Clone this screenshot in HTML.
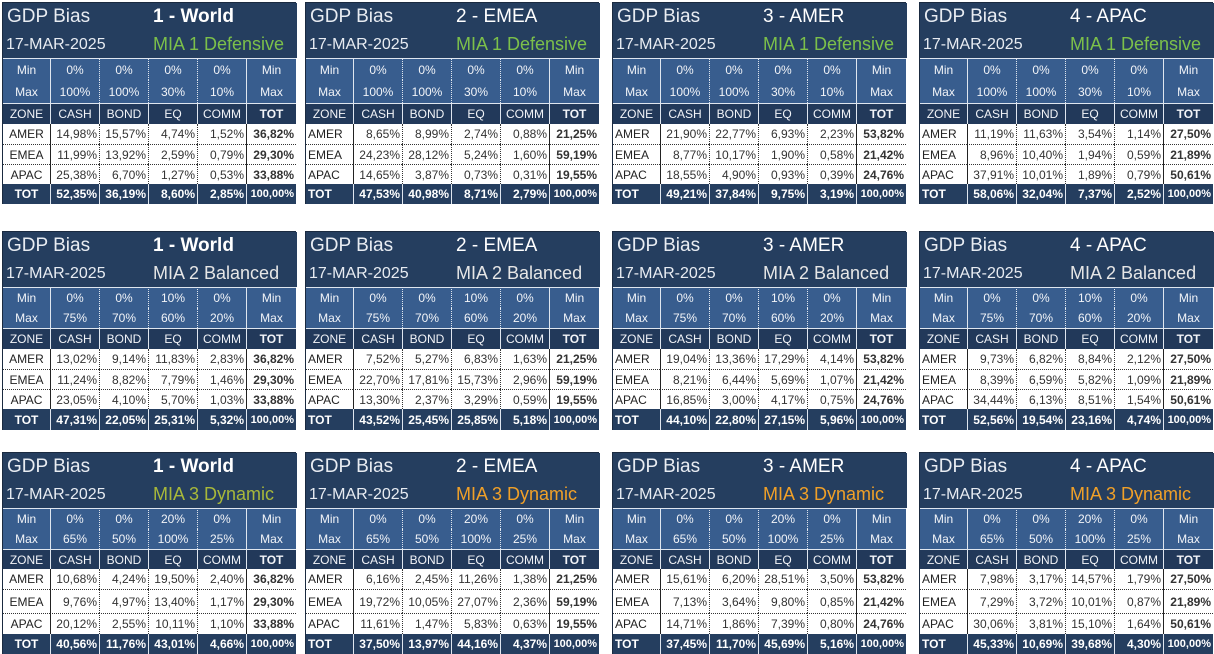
<!DOCTYPE html>
<html><head><meta charset="utf-8">
<style>
body{margin:0;width:1214px;height:654px;background:#fff;overflow:hidden;font-family:"Liberation Sans",sans-serif;position:relative}
.p{position:absolute;background:#fff;border:1px solid #1a2a40;box-sizing:border-box}
.c{position:absolute;box-sizing:border-box;font-size:12px;white-space:nowrap;display:flex;align-items:center;overflow:hidden}
</style></head><body>
<script>
const panelX=[2,305,612,919];
const panelTitles=["1 - World","2 - EMEA","3 - AMER","4 - APAC"];
const strategies=["MIA 1 Defensive","MIA 2 Balanced","MIA 3 Dynamic"];
const stratColors=[["#7cc04a","#7cc04a","#7cc04a","#7cc04a"],["#e6e6e6","#e6e6e6","#e6e6e6","#e6e6e6"],["#a8b83a","#f0a028","#f0a028","#f0a028"]];
const mins=[["0%","0%","0%","0%"],["0%","0%","10%","0%"],["0%","0%","20%","0%"]];
const maxs=[["100%","100%","30%","10%"],["75%","70%","60%","20%"],["65%","50%","100%","25%"]];
const zones=["AMER","EMEA","APAC"];
const cols=["CASH","BOND","EQ","COMM","TOT"];
const values=[
[[["14,98%","15,57%","4,74%","1,52%","36,82%"],["11,99%","13,92%","2,59%","0,79%","29,30%"],["25,38%","6,70%","1,27%","0,53%","33,88%"],["52,35%","36,19%","8,60%","2,85%","100,00%"]],
 [["8,65%","8,99%","2,74%","0,88%","21,25%"],["24,23%","28,12%","5,24%","1,60%","59,19%"],["14,65%","3,87%","0,73%","0,31%","19,55%"],["47,53%","40,98%","8,71%","2,79%","100,00%"]],
 [["21,90%","22,77%","6,93%","2,23%","53,82%"],["8,77%","10,17%","1,90%","0,58%","21,42%"],["18,55%","4,90%","0,93%","0,39%","24,76%"],["49,21%","37,84%","9,75%","3,19%","100,00%"]],
 [["11,19%","11,63%","3,54%","1,14%","27,50%"],["8,96%","10,40%","1,94%","0,59%","21,89%"],["37,91%","10,01%","1,89%","0,79%","50,61%"],["58,06%","32,04%","7,37%","2,52%","100,00%"]]],
[[["13,02%","9,14%","11,83%","2,83%","36,82%"],["11,24%","8,82%","7,79%","1,46%","29,30%"],["23,05%","4,10%","5,70%","1,03%","33,88%"],["47,31%","22,05%","25,31%","5,32%","100,00%"]],
 [["7,52%","5,27%","6,83%","1,63%","21,25%"],["22,70%","17,81%","15,73%","2,96%","59,19%"],["13,30%","2,37%","3,29%","0,59%","19,55%"],["43,52%","25,45%","25,85%","5,18%","100,00%"]],
 [["19,04%","13,36%","17,29%","4,14%","53,82%"],["8,21%","6,44%","5,69%","1,07%","21,42%"],["16,85%","3,00%","4,17%","0,75%","24,76%"],["44,10%","22,80%","27,15%","5,96%","100,00%"]],
 [["9,73%","6,82%","8,84%","2,12%","27,50%"],["8,39%","6,59%","5,82%","1,09%","21,89%"],["34,44%","6,13%","8,51%","1,54%","50,61%"],["52,56%","19,54%","23,16%","4,74%","100,00%"]]],
[[["10,68%","4,24%","19,50%","2,40%","36,82%"],["9,76%","4,97%","13,40%","1,17%","29,30%"],["20,12%","2,55%","10,11%","1,10%","33,88%"],["40,56%","11,76%","43,01%","4,66%","100,00%"]],
 [["6,16%","2,45%","11,26%","1,38%","21,25%"],["19,72%","10,05%","27,07%","2,36%","59,19%"],["11,61%","1,47%","5,83%","0,63%","19,55%"],["37,50%","13,97%","44,16%","4,37%","100,00%"]],
 [["15,61%","6,20%","28,51%","3,50%","53,82%"],["7,13%","3,64%","9,80%","0,85%","21,42%"],["14,71%","1,86%","7,39%","0,80%","24,76%"],["37,45%","11,70%","45,69%","5,16%","100,00%"]],
 [["7,98%","3,17%","14,57%","1,79%","27,50%"],["7,29%","3,72%","10,01%","0,87%","21,89%"],["30,06%","3,81%","15,10%","1,64%","50,61%"],["45,33%","10,69%","39,68%","4,30%","100,00%"]]]
];
const rowTops=[2,231,452];
const rowH=[[28,27,22,23,21,20,20,20,20],[28,27,21,20,21,20,20,20,21],[28,27,21,20,20,20,24,21,20]];
const colW=[47,49,49,49,49,50];
const NAVY="#253e5f",MID="#385d8e",HEAD="#22395a";
function cell(parent,x,y,w,h,txt,st,name){
  const d=document.createElement('div');d.className='c';
  d.style.left=x+'px';d.style.top=y+'px';d.style.width=w+'px';d.style.height=h+'px';
  Object.assign(d.style,st||{});d.textContent=txt;
  
  
  parent.appendChild(d);return d;
}
for(let r=0;r<3;r++)for(let p=0;p<4;p++){
  const H=rowH[r];const total=H.reduce((a,b)=>a+b,0);
  const pn=document.createElement('div');pn.className='p';
  pn.style.left=panelX[p]+'px';pn.style.top=rowTops[r]+'px';pn.style.width='294px';pn.style.height=(total+1)+'px';
  
  
  document.body.appendChild(pn);
  cell(pn,0,0,294,H[0]+H[1],'',{background:NAVY},'title-band');
  cell(pn,4,0,140,H[0],'GDP Bias',{color:'#e8ecf2',fontSize:'19px'},'title');
  cell(pn,150,0,144,H[0],panelTitles[p],{color:'#fff',fontSize:'19px',fontWeight:p==0?'bold':'normal'},'region-title');
  cell(pn,3,H[0],140,H[1],'17-MAR-2025',{color:'#e8ecf2',fontSize:'16px'},'date');
  cell(pn,150,H[0],144,H[1],strategies[r],{color:stratColors[r][p],fontSize:'18px'},'strategy-name');
  let y=H[0]+H[1];
  const rowsLbl=[["Min",...mins[r],"Min"],["Max",...maxs[r],"Max"]];
  for(let k=0;k<2;k++){
    let x=0;
    for(let c=0;c<6;c++){
      const bl=c>0?(c==1||c==5?'1px solid #dfe6ef':'1px dotted #dfe6ef'):'none';
      cell(pn,x,y,colW[c],H[2+k],rowsLbl[k][c],{background:MID,color:'#f2f4f8',justifyContent:'center',borderLeft:bl,borderTop:k==0?'1px solid #dfe6ef':'none'},k==0?'min-cell':'max-cell');
      x+=colW[c];
    }
    y+=H[2+k];
  }
  let x=0;
  const hdr=["ZONE",...cols];
  for(let c=0;c<6;c++){
    cell(pn,x,y,colW[c],H[4],hdr[c],{background:HEAD,color:'#f2f4f8',justifyContent:'center',fontWeight:c==5?'bold':'normal',borderLeft:c>0?'1px solid #dfe6ef':'none',borderTop:'1px solid #dfe6ef'},'column-header');
    x+=colW[c];
  }
  y+=H[4];
  const vals=values[r][p];
  for(let z=0;z<4;z++){
    const isTot=z==3;x=0;
    const h=H[5+z];
    const lbl=isTot?"TOT":zones[z];
    cell(pn,x,y,colW[0],h,lbl,{background:isTot?NAVY:'#fff',color:isTot?'#fff':'#222',fontWeight:isTot?'bold':'normal',justifyContent:p==0?'center':'flex-start',paddingLeft:p==0?'0':'2px',borderTop:z>0&&!isTot?'1px dotted #333':'none',fontSize:'12px'},'zone-label');
    x+=colW[0];
    for(let c=0;c<5;c++){
      const bl=(c==0||c==4)?'1px solid #222':'1px dotted #333';
      cell(pn,x,y,colW[c+1],h,vals[z][c],{background:isTot?NAVY:'#fff',color:isTot?'#fff':'#333',fontWeight:(isTot||c==4)?'bold':'normal',justifyContent:'flex-end',paddingRight:'2px',borderLeft:isTot?'1px solid #dfe6ef':bl,borderTop:z>0&&!isTot?'1px dotted #333':'none',fontSize:(isTot&&c==4)?'11px':'12px'},'value-cell');
      x+=colW[c+1];
    }
    y+=h;
  }
}
</script>
</body></html>
